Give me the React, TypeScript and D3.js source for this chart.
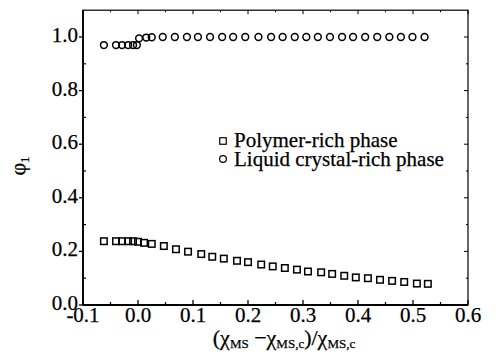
import React from "react";
import * as d3 from "d3";

const prX = [-0.062, -0.040, -0.029, -0.018, -0.009, 0.0, 0.011, 0.025, 0.047, 0.069, 0.091, 0.115, 0.135, 0.156, 0.180, 0.200, 0.224, 0.245, 0.267, 0.289, 0.309, 0.333, 0.353, 0.375, 0.396, 0.418, 0.440, 0.462, 0.484, 0.507, 0.527];
const prY = [0.238, 0.238, 0.238, 0.238, 0.238, 0.236, 0.232, 0.228, 0.220, 0.208, 0.199, 0.190, 0.180, 0.173, 0.165, 0.160, 0.151, 0.144, 0.138, 0.132, 0.125, 0.122, 0.116, 0.109, 0.103, 0.100, 0.094, 0.090, 0.086, 0.080, 0.079];

const lcX = [-0.062, -0.040, -0.029, -0.018, -0.009, -0.002, 0.002, 0.015, 0.025, 0.045, 0.067, 0.089, 0.109, 0.131, 0.153, 0.173, 0.195, 0.219, 0.242, 0.263, 0.285, 0.306, 0.327, 0.349, 0.371, 0.391, 0.413, 0.435, 0.457, 0.478, 0.499, 0.521];
const lcY = [0.970, 0.970, 0.970, 0.970, 0.970, 0.970, 0.995, 0.998, 0.999, 1.0, 1.0, 1.0, 1.0, 1.0, 1.0, 1.0, 1.0, 1.0, 1.0, 1.0, 1.0, 1.0, 1.0, 1.0, 1.0, 1.0, 1.0, 1.0, 1.0, 1.0, 1.0, 1.0];

const xTicks = [-0.1, 0.0, 0.1, 0.2, 0.3, 0.4, 0.5, 0.6];
const xMinor = [-0.05, 0.05, 0.15, 0.25, 0.35, 0.45, 0.55];
const yTicks = [0.0, 0.2, 0.4, 0.6, 0.8, 1.0];
const yMinor = [0.1, 0.3, 0.5, 0.7, 0.9];

const legendLabels = ["Polymer-rich phase", "Liquid crystal-rich phase"];

const FONT = "'Liberation Serif', 'Times New Roman', serif";

export default function App() {
  const x = d3.scaleLinear().domain([-0.1, 0.6]).range([83, 468]);
  const y = d3.scaleLinear().domain([0, 1.1]).range([305, 10.2]);
  const [x0, x1] = x.range();
  const [y0, y1] = y.range();
  const fmt = (v: number) => d3.format(".1f")(v).replace("\u2212", "-");
  const sq = 6.5;
  const stroke = "#000";
  const txt = { stroke: "#000", strokeWidth: 0.25 } as const;

  return (
    <svg width={496} height={355} style={{ position: "absolute", left: 0, top: 0, background: "#fff" }} fontFamily={FONT}>
      <rect x={0} y={0} width={496} height={355} fill="#fff" />
      {/* frame */}
      <rect x={x0} y={y1} width={x1 - x0} height={y0 - y1} fill="none" stroke={stroke} strokeWidth={1.2} />
      <line x1={x0} x2={x1} y1={y0} y2={y0} stroke={stroke} strokeWidth={1.8} />
      <line x1={x0} x2={x0} y1={y0} y2={y1} stroke={stroke} strokeWidth={1.8} />
      {/* x ticks */}
      {xTicks.map((t) => (
        <g key={"xt" + t}>
          <line x1={x(t)} x2={x(t)} y1={y0} y2={y0 - 5} stroke={stroke} strokeWidth={1.3} />
          <line x1={x(t)} x2={x(t)} y1={y1} y2={y1 + 4} stroke={stroke} strokeWidth={1} />
          <text x={x(t)} y={y0 + 17} fontSize={21} textAnchor="middle" {...txt}>{fmt(t)}</text>
        </g>
      ))}
      {xMinor.map((t) => (
        <g key={"xm" + t}>
          <line x1={x(t)} x2={x(t)} y1={y0} y2={y0 - 3} stroke={stroke} strokeWidth={1.2} />
          <line x1={x(t)} x2={x(t)} y1={y1} y2={y1 + 2} stroke={stroke} strokeWidth={1} />
        </g>
      ))}
      {/* y ticks */}
      {yTicks.map((t) => (
        <g key={"yt" + t}>
          <line x1={x0 - 4} x2={x0 + 1} y1={y(t)} y2={y(t)} stroke={stroke} strokeWidth={1.3} />
          <line x1={x1} x2={x1 - 4} y1={y(t)} y2={y(t)} stroke={stroke} strokeWidth={1} />
          <text x={x0 - 5} y={y(t) + 5} fontSize={21} textAnchor="end" {...txt}>{fmt(t)}</text>
        </g>
      ))}
      {yMinor.map((t) => (
        <g key={"ym" + t}>
          <line x1={x0} x2={x0 + 3} y1={y(t)} y2={y(t)} stroke={stroke} strokeWidth={1.2} />
          <line x1={x1} x2={x1 - 2} y1={y(t)} y2={y(t)} stroke={stroke} strokeWidth={1} />
        </g>
      ))}
      {/* data: polymer-rich squares */}
      {prX.map((v, i) => (
        <rect key={"p" + i} x={x(v) - sq / 2} y={y(prY[i]) - sq / 2} width={sq} height={sq} fill="none" stroke={stroke} strokeWidth={1.5} />
      ))}
      {/* data: LC-rich circles */}
      {lcX.map((v, i) => (
        <circle key={"c" + i} cx={x(v)} cy={y(lcY[i])} r={3.4} fill="none" stroke={stroke} strokeWidth={1.5} />
      ))}
      {/* legend */}
      <rect x={223 - sq / 2} y={141 - sq / 2} width={sq} height={sq} fill="none" stroke={stroke} strokeWidth={1.2} />
      <circle cx={223} cy={159} r={3.4} fill="none" stroke={stroke} strokeWidth={1.2} />
      <text x={234} y={147} fontSize={21} {...txt}>{legendLabels[0]}</text>
      <text x={234} y={166} fontSize={21} {...txt}>{legendLabels[1]}</text>
      {/* y-axis label */}
      <text transform="translate(25,166) rotate(-90)" fontSize={22} textAnchor="middle" {...txt}>
        φ<tspan fontSize={13} dy={4}>1</tspan>
      </text>
      {/* x-axis label */}
      <text x={284} y={345} fontSize={22} textAnchor="middle" {...txt}>
        (χ<tspan fontSize={13} dy={3}>MS</tspan>
        <tspan dy={-3}> −χ</tspan>
        <tspan fontSize={13} dy={3}>MS,c</tspan>
        <tspan dy={-3}>)/χ</tspan>
        <tspan fontSize={13} dy={3}>MS,c</tspan>
      </text>
    </svg>
  );
}
